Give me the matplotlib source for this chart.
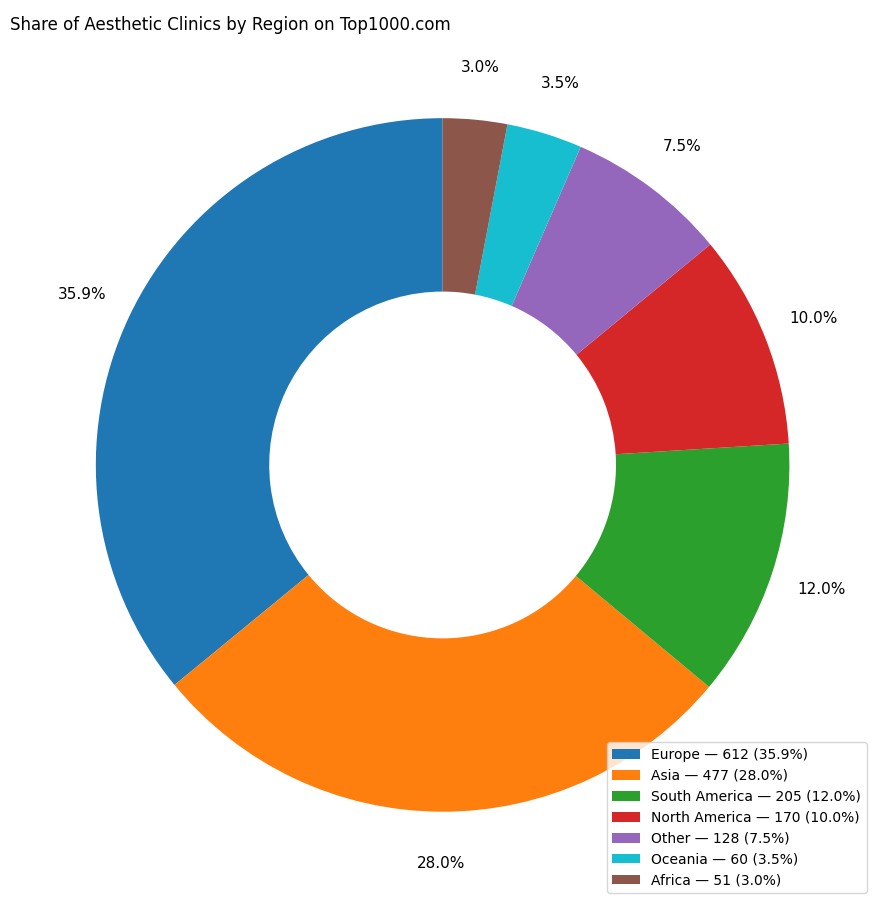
import matplotlib
matplotlib.use("Agg")
import matplotlib.pyplot as plt

regions = ["Europe", "Asia", "South America", "North America", "Other", "Oceania", "Africa"]
counts = [612, 477, 205, 170, 128, 60, 51]
colors = ["#1f77b4", "#ff7f0e", "#2ca02c", "#d62728", "#9467bd", "#17becf", "#8c564b"]

total = sum(counts)
fig = plt.figure(figsize=(8.87, 9.09), dpi=100)
ax = fig.add_axes([0.108, 0.107, 0.782, 0.763])
wedges, texts, autotexts = ax.pie(counts, colors=colors, startangle=90, counterclock=True,
                                  autopct="%1.1f%%", pctdistance=1.15,
                                  wedgeprops=dict(width=0.5), textprops=dict(fontsize=11))
ax.set_xlim(-1, 1)
ax.set_ylim(-1, 1)
ax.set_aspect("equal")
labels = [f"{r} — {c} ({c/total*100:.1f}%)" for r, c in zip(regions, counts)]
fig.legend(wedges, labels, loc="lower right", bbox_to_anchor=(0.985, 0.01), fontsize=10)
fig.text(0.011, 0.972, "Share of Aesthetic Clinics by Region on Top1000.com", fontsize=12, va="center")
fig.savefig("out.png", dpi=100)
